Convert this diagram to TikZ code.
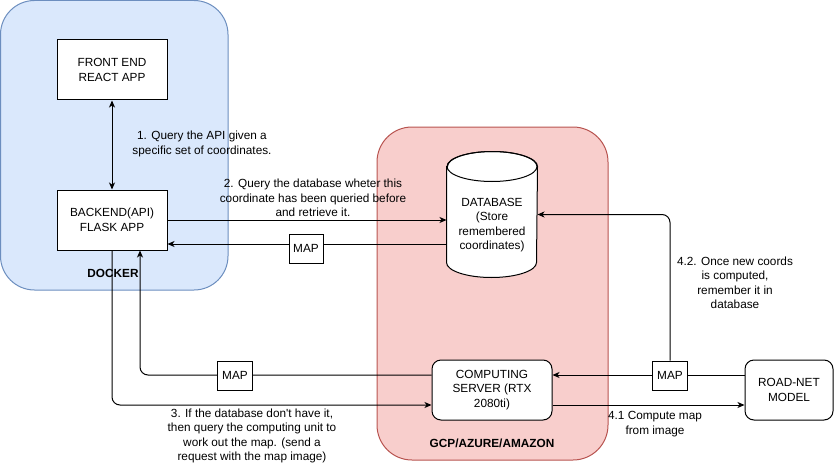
\documentclass[tikz,border=0pt]{standalone}
\usepackage{fontspec}
\setmainfont{Liberation Sans}
\usetikzlibrary{arrows.meta}
\definecolor{dockerfill}{HTML}{DAE8FC}
\definecolor{dockerline}{HTML}{6C8EBF}
\definecolor{cloudfill}{HTML}{F8CECC}
\definecolor{cloudline}{HTML}{B85450}

\begin{document}
\begin{tikzpicture}[x=1pt,y=-1pt,line width=1pt,font=\fontsize{11.8}{14.5}\selectfont,
  >={Stealth[length=7pt,width=6pt,inset=2pt]},
  box/.style={draw,fill=white,minimum width=110pt,minimum height=60pt,inner sep=0pt,align=center},
  rbox/.style={box,rounded corners=9pt},
  mapbox/.style={draw,fill=white,minimum width=35pt,minimum height=29pt,inner sep=0pt},
  note/.style={align=center,inner sep=0pt},
  title/.style={font=\bfseries\fontsize{11.8}{14.5}\selectfont}]

\useasboundingbox (0,0) rectangle (834,468);

% containers
\draw[draw=dockerline,fill=dockerfill,rounded corners=34pt] (0.5,0.5) rectangle (228,290);
\draw[draw=cloudline,fill=cloudfill,rounded corners=35pt] (377,127) rectangle (608,460);
\node[title] (docker) at (113,273) {DOCKER};
\node[title] (cloud) at (492,443) {GCP/AZURE/AMAZON};

% boxes
\node[box] (front) at (112,70) {FRONT END\\REACT APP};
\node[box] (back) at (112,220) {BACKEND(API)\\FLASK APP};
\node[rbox,minimum width=120pt] (comp) at (492,390) {COMPUTING\\SERVER (RTX\\2080ti)};
\node[rbox,minimum width=88pt] (road) at (789,390) {ROAD-NET\\MODEL};

% database
\node[minimum width=90pt,minimum height=125pt,inner sep=0pt] (db) at (492,214.5) {};
\draw[fill=white] ([yshift=-15pt]db.north west) -- ([yshift=15pt]db.south west)
  arc[start angle=180,end angle=360,x radius=45pt,y radius=15pt]
  -- ([yshift=-15pt]db.north east)
  arc[start angle=0,end angle=180,x radius=45pt,y radius=15pt] -- cycle;
\draw ([yshift=-15pt]db.north) ellipse [x radius=45pt,y radius=15pt];
\node[note] (dbtext) at ([yshift=-10.5pt]db.center) {DATABASE\\(Store\\remembered\\coordinates)};

% connectors
\draw[<->] (front) -- (back);
\draw[->] (back.east) -- (back.east -| db.west);
\draw[->] (db.west |- 0,244) -- (back.east |- 0,244);
\draw[->,rounded corners=8pt] ([yshift=15pt]comp.west) -| ([xshift=28pt]back.south);
\draw[->,rounded corners=8pt] (back.south) |- ([yshift=-15pt]comp.west);
\draw[->] ([yshift=15pt]road.west) -- ([yshift=15pt]comp.east);
\draw[->] ([yshift=-15pt]comp.east) -- ([yshift=-15pt]road.west);

\node[mapbox,minimum width=34pt] (mapdb) at (306,248.5) {MAP};
\node[mapbox] (mapcomp) at (235,375.5) {MAP};
\node[mapbox] (maproad) at (670,375.5) {MAP};

\draw[->,rounded corners=8pt] (maproad.north) |- (db.east);

% step labels
\node[note] (q1) at (202,144) {1. Query the API given a\\specific set of coordinates.};
\node[note] (q2) at (313,198) {2. Query the database wheter this\\coordinate has been queried before\\and retrieve it.};
\node[note] (q3) at (252,436) {3. If the database don\textquotesingle t have it,\\then query the computing unit to\\work out the map. (send a\\request with the map image)};
\node[note] (q41) at (655,424) {4.1 Compute map\\from image};
\node[note] (q42) at (735,283) {4.2. Once new coords\\is computed,\\remember it in\\database};

\end{tikzpicture}
\end{document}
